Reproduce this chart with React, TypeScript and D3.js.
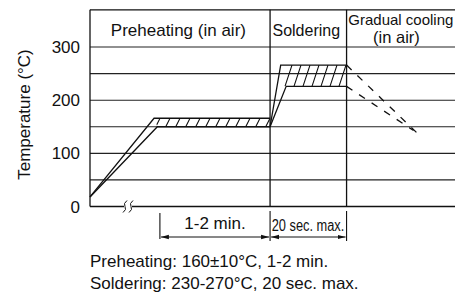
import React from 'react';
import * as d3 from 'd3';

// temperature profile as [time, °C]; time is in arbitrary units (the axis is broken)
const upperPreheat: [number, number][] = [[0, 18], [17.5, 166], [49.2, 166]];
const lowerPreheat: [number, number][] = [[0, 18], [18.4, 150], [49.2, 150]];
const upperSolder: [number, number][] = [[49.2, 150], [52.1, 266], [70.1, 266]];
const lowerSolder: [number, number][] = [[49.2, 150], [53.6, 226], [70.1, 226]];
const upperCooling: [number, number][] = [[70.1, 266], [90.6, 130]];
const lowerCooling: [number, number][] = [[70.1, 226], [88.4, 143]];

// hatched tolerance bands
const preheatBand: [number, number][] = [[17.5, 166], [49.2, 166], [49.2, 150], [18.4, 150]];
const solderBand: [number, number][] = [[52.1, 266], [70.1, 266], [70.1, 226], [53.6, 226], [51.1, 226]];

const gridValues = [50, 100, 150, 200, 250, 300];
const tickValues = [0, 100, 200, 300];

const phaseDividers = [49.2, 70.1];
const phaseLabels = ['Preheating (in air)', 'Soldering'];
const coolingLabel = ['Gradual cooling', '(in air)'];

const dimEdges = [19.1, 49.2, 70.1];
const dimLabels = ['1-2 min.', '20 sec. max.'];

const notes = ['Preheating: 160±10°C, 1-2 min.', 'Soldering: 230-270°C, 20 sec. max.'];

const width = 455;
const height = 296;
const font = '"Liberation Sans", Arial, Helvetica, sans-serif';
const ink = '#111';

const x = d3.scaleLinear().domain([0, 100]).range([90, 456]);
const y = d3.scaleLinear().domain([0, 370]).range([206.5, 9.8]);

const line = d3.line<[number, number]>().x(d => x(d[0])).y(d => y(d[1]));

function hatch(band: [number, number][], start: number, step: number, slant: number) {
  const px = band.map(d => [x(d[0]), y(d[1])]);
  const top = d3.min(px, d => d[1]) as number;
  const bottom = d3.max(px, d => d[1]) as number;
  const right = d3.max(px, d => d[0]) as number;
  const shift = (bottom - top) * slant;
  return d3.range(start, right + shift, step).map(
    xs => `M${xs},${top}L${xs - shift},${bottom}`
  ).join('');
}

const App: React.FC = () => {
  const x0 = x(0);
  const x1 = x(100);
  const y0 = y(0);
  const yTop = y(370);
  const dimY = 237;
  const breakX = 125;

  return (
    <svg width={width} height={height} style={{ position: 'absolute', left: 0, top: 0 }}
      fontFamily={font}>
      <defs>
        <clipPath id="preBand"><path d={line(preheatBand) + 'Z'} /></clipPath>
        <clipPath id="solBand"><path d={line(solderBand) + 'Z'} /></clipPath>
        <marker id="arr" viewBox="0 0 8 6" refX="8" refY="3" markerWidth="8" markerHeight="6"
          orient="auto-start-reverse" markerUnits="userSpaceOnUse">
          <path d="M0,0.8L8,3L0,5.2Z" fill={ink} />
        </marker>
      </defs>

      {/* grid */}
      {gridValues.map(v => (
        <line key={v} x1={x0} x2={x1} y1={y(v)} y2={y(v)} stroke="#222" strokeWidth={1.1} />
      ))}
      <line x1={x0} x2={x1} y1={yTop} y2={yTop} stroke={ink} strokeWidth={1.3} />
      <line x1={x0} x2={x0} y1={yTop} y2={y0} stroke={ink} strokeWidth={1.3} />
      {phaseDividers.map(t => (
        <line key={t} x1={x(t)} x2={x(t)} y1={yTop} y2={y0} stroke={ink} strokeWidth={1.3} />
      ))}

      {/* time axis with break */}
      <line x1={x0} x2={breakX - 1} y1={y0} y2={y0} stroke={ink} strokeWidth={1.3} />
      <line x1={breakX + 7} x2={x1} y1={y0} y2={y0} stroke={ink} strokeWidth={1.3} />
      {[breakX, breakX + 6].map(b => (
        <path key={b} d={`M${b + 2},${y0 - 6}Q${b - 2},${y0 - 3} ${b},${y0}Q${b + 2},${y0 + 3} ${b - 2},${y0 + 6}`}
          fill="none" stroke={ink} strokeWidth={1} />
      ))}

      {/* temperature ticks */}
      {tickValues.map(v => (
        <text key={v} x={80} y={y(v)} dy="0.36em" textAnchor="end" fontSize={17} fill={ink}>{v}</text>
      ))}
      <text transform={`translate(29.5,114.5) rotate(-90)`} textAnchor="middle" fontSize={17} fill={ink}>
        Temperature (°C)
      </text>

      {/* phase labels */}
      <text x={178.4} y={36} textAnchor="middle" fontSize={17} fill={ink}>{phaseLabels[0]}</text>
      <text x={306.3} y={36} textAnchor="middle" fontSize={16} fill={ink}>{phaseLabels[1]}</text>
      <text x={348.3} y={25} fontSize={15} fill={ink}>{coolingLabel[0]}</text>
      <text x={396.5} y={43} textAnchor="middle" fontSize={16.5} fill={ink}>{coolingLabel[1]}</text>

      {/* hatching */}
      <path d={hatch(preheatBand, 160, 10, 0.5)} clipPath="url(#preBand)" stroke={ink} strokeWidth={1.1} fill="none" />
      <path d={hatch(solderBand, 292, 9, 0.33)} clipPath="url(#solBand)" stroke={ink} strokeWidth={1.1} fill="none" />

      {/* profile */}
      {[upperPreheat, lowerPreheat, upperSolder, lowerSolder].map((d, i) => (
        <path key={i} d={line(d) as string} fill="none" stroke={ink} strokeWidth={1.3} strokeLinejoin="miter" />
      ))}
      {[upperCooling, lowerCooling].map((d, i) => (
        <path key={i} d={line(d) as string} fill="none" stroke={ink} strokeWidth={1.3} strokeDasharray="7 8" />
      ))}

      {/* duration dimensions */}
      {dimEdges.map((t, i) => (
        <line key={t} x1={x(t)} x2={x(t)} y1={i === 0 ? 213 : 211} y2={i === 0 ? 239 : 241} stroke={ink} strokeWidth={1.1} />
      ))}
      {dimLabels.map((lab, i) => (
        <line key={lab} x1={x(dimEdges[i]) + 1} x2={x(dimEdges[i + 1]) - 1} y1={dimY} y2={dimY}
          stroke={ink} strokeWidth={1} markerStart="url(#arr)" markerEnd="url(#arr)" />
      ))}
      <text x={(x(dimEdges[0]) + x(dimEdges[1])) / 2} y={228.5} textAnchor="middle" fontSize={17} fill={ink}>
        {dimLabels[0]}
      </text>
      <text x={271.7} y={230.7} fontSize={16} fill={ink} textLength={72.6} lengthAdjust="spacingAndGlyphs">
        {dimLabels[1]}
      </text>

      {/* notes */}
      {notes.map((n, i) => (
        <text key={n} x={90} y={267 + i * 22} fontSize={17} fill={ink}>{n}</text>
      ))}
    </svg>
  );
};

export default App;
